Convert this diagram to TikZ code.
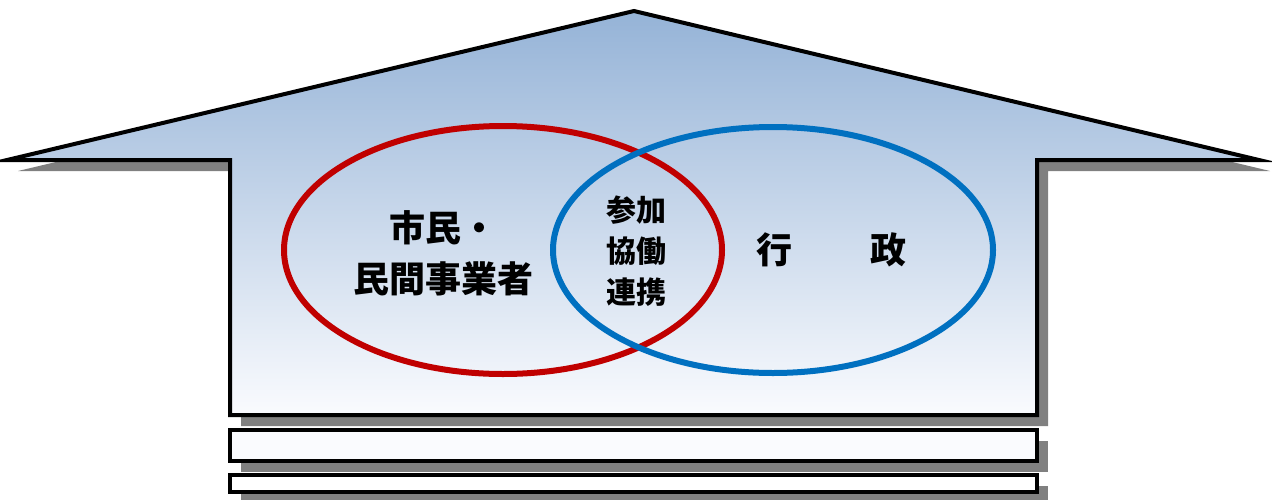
\documentclass[tikz,border=0pt]{standalone}
\usepackage{fontspec}
\newfontfamily\cjk{Noto Sans CJK JP}
\definecolor{roofblue}{RGB}{149,179,215}
\definecolor{paleend}{RGB}{250,251,254}
\definecolor{shadowgray}{RGB}{128,128,128}
\definecolor{ringred}{RGB}{192,0,0}
\definecolor{ringblue}{RGB}{0,112,192}
\tikzset{
  housepath/.style={draw=black, line width=4pt, line join=miter},
  shadowshape/.style={fill=shadowgray, draw=none},
  ring/.style={line width=6pt},
  bigtext/.style={font=\cjk\bfseries\fontsize{36}{51}\selectfont, align=center, inner sep=0pt},
  midtext/.style={font=\cjk\bfseries\fontsize{30}{41}\selectfont, align=center, inner sep=0pt},
}
\begin{document}
\begin{tikzpicture}[x=1pt,y=-1pt]
\useasboundingbox (0,0) rectangle (1272,499);
% shadows
\begin{scope}[shift={(11,11)}]
  \fill[shadowgray] (7,160) -- (634,11) -- (1259,160) -- (1037,160) -- (1037,415) -- (230,415) -- (230,160) -- cycle;
  \fill[shadowgray] (230,430) rectangle (1037,461);
  \fill[shadowgray] (230,475) rectangle (1037,492);
\end{scope}
% house body
\shade[top color=roofblue, bottom color=paleend, draw=black, line width=4pt, line join=miter]
  (7,160) -- (634,11) -- (1259,160) -- (1037,160) -- (1037,415) -- (230,415) -- (230,160) -- cycle;
% base bars
\draw[housepath, fill=paleend] (230,430) rectangle (1037,461);
\draw[housepath, fill=white] (230,475) rectangle (1037,492);
% rings
\draw[ring, draw=ringred] (503,250) ellipse [x radius=219, y radius=124];
\draw[ring, draw=ringblue] (773,250) ellipse [x radius=220, y radius=123];
% texts
\node[bigtext] (citizens) at (443,253) {市民・\\民間事業者};
\node[midtext] (collab) at (636,251) {参加\\協働\\連携};
\node[bigtext] (gyo) at (774,250) {行};
\node[bigtext] (sei) at (888,250) {政};
\end{tikzpicture}
\end{document}
